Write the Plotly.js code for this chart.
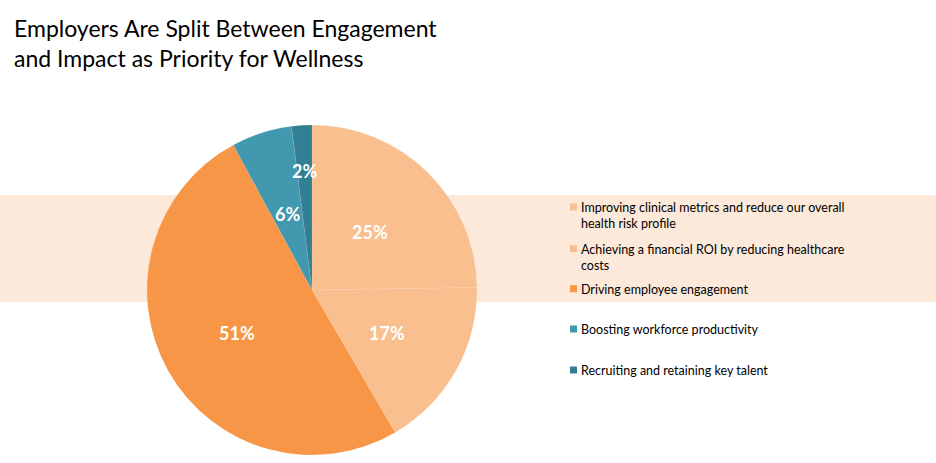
<!DOCTYPE html>
<html>
<head>
<meta charset="utf-8">
<script src="https://cdn.plot.ly/plotly-3.0.1.min.js"></script>
<style>html,body{margin:0;padding:0;background:#fff;}#chart{width:936px;height:463px;}</style>
</head>
<body>
<div id="chart"></div>
<script>
var categories = [
  "Improving clinical metrics and reduce our overall<br>health risk profile",
  "Achieving a financial ROI by reducing healthcare<br>costs",
  "Driving employee engagement",
  "Boosting workforce productivity",
  "Recruiting and retaining key talent"
];
var shares = [25, 17, 51, 6, 2];
var sliceColors = ["#F9BF8F", "#F9BF8F", "#F79646", "#4298AF", "#327E92"];
var titleText = "Employers Are Split Between Engagement<br>and Impact as Priority for Wellness";

var W = 936, H = 463;
var cx = 312, cy = 290, R = 165;
// label placement (fraction of radius) and legend row baselines (px)
var labelRadius = [0.5, 0.52, 0.52, 0.49, 0.73];
var legendBaselines = [211, 252.7, 292.7, 333, 374];

function px(x) { return x / W; }
function py(y) { return (H - y) / H; }

var trace = {
  type: "pie",
  labels: categories,
  values: shares,
  sort: false,
  direction: "clockwise",
  rotation: 0,
  marker: {colors: sliceColors, line: {color: "rgba(255,255,255,0.18)", width: 0.5}},
  textinfo: "none",
  hoverinfo: "label+value",
  showlegend: false,
  domain: {x: [px(cx - R), px(cx + R)], y: [py(cy + R), py(cy - R)]}
};

var annotations = [];
var total = shares.reduce(function (a, b) { return a + b; }, 0);
var cum = 0;
shares.forEach(function (v, i) {
  var th = (cum + v / 2) / total * 2 * Math.PI;
  cum += v;
  var f = labelRadius[i];
  annotations.push({
    xref: "paper", yref: "paper",
    x: px(cx + f * R * Math.sin(th)), y: py(cy - f * R * Math.cos(th) + 1),
    xanchor: "center", yanchor: "middle", showarrow: false,
    text: v + "%",
    font: {family: "Lato, sans-serif", size: 18, color: "#ffffff", weight: "bold"}
  });
});

var shapes = [{
  type: "rect", xref: "paper", yref: "paper", layer: "below",
  x0: 0, x1: 1, y0: py(302), y1: py(195),
  fillcolor: "#FDE9D9", line: {width: 0}
}];

categories.forEach(function (c, i) {
  var b = legendBaselines[i];
  annotations.push({
    xref: "paper", yref: "paper",
    x: px(579), y: py(b - 13),
    xanchor: "left", yanchor: "top", align: "left", showarrow: false,
    text: c,
    font: {family: "Lato, sans-serif", size: 12.5, color: "#000000"}
  });
  shapes.push({
    type: "rect", xref: "paper", yref: "paper", layer: "above",
    x0: px(570), x1: px(577), y0: py(b - 0.5), y1: py(b - 7.5),
    fillcolor: sliceColors[i], line: {width: 0}
  });
});

var layout = {
  width: W, height: H,
  margin: {l: 0, r: 0, t: 0, b: 0},
  paper_bgcolor: "#ffffff",
  font: {family: "Lato, sans-serif", color: "#000000"},
  title: {
    text: titleText,
    font: {family: "Lato, sans-serif", size: 23, color: "#000000"},
    x: px(14), xanchor: "left", xref: "paper",
    y: 1 - 37 / H, yanchor: "top", yref: "container"
  },
  showlegend: false,
  annotations: annotations,
  shapes: shapes
};

Plotly.newPlot("chart", [trace], layout, {displayModeBar: false, staticPlot: true});
</script>
</body>
</html>
